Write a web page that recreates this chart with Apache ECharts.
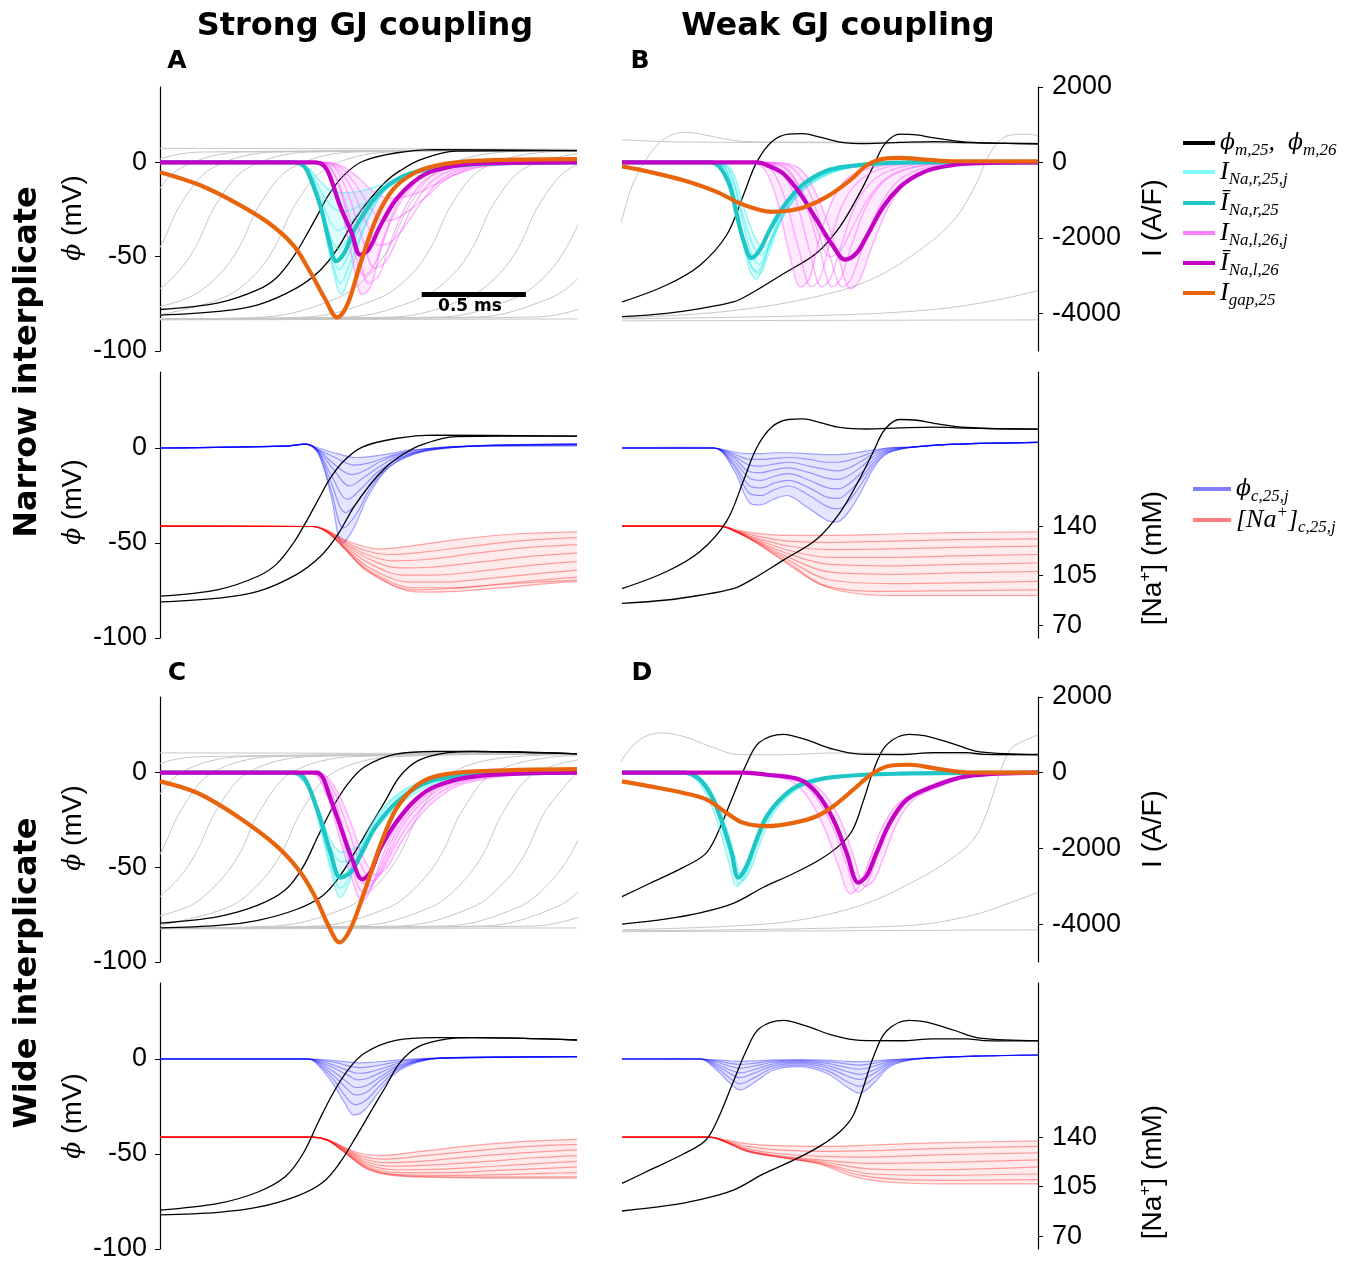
<!DOCTYPE html>
<html><head><meta charset="utf-8">
<script src="https://cdn.jsdelivr.net/npm/echarts@6/dist/echarts.min.js"></script>
<style>html,body{margin:0;padding:0;background:#fff;}#c{width:1359px;height:1264px;}</style>
</head><body><div id="c"></div>
<script>
// ---------- tick labels ----------
const phiTicks = [-100, -50, 0];
const iTicks = [-4000, -2000, 0, 2000];
const naTicks = [70, 105, 140];
const colTitles = ['Strong GJ coupling', 'Weak GJ coupling'];
const rowTitles = ['Narrow interplicate', 'Wide interplicate'];
const panelLetters = ['A', 'B', 'C', 'D'];

// ---------- membrane potentials (t ms, phi mV) ----------
const SN_phi25 = [[0,-78],[0.28,-74.5],[0.47,-67.5],[0.56,-61],[0.64,-50],[0.7,-39],[0.76,-27],[0.81,-17],[0.88,-7],[0.97,0.5],[1.13,5],[1.32,6.8],[2,6.3]];
const SN_phi26 = [[0,-81],[0.28,-79],[0.47,-75.5],[0.656,-66.5],[0.77,-57],[0.85,-46],[0.93,-31],[1.01,-19],[1.09,-9.5],[1.15,-4.5],[1.25,1.5],[1.42,6],[2,6.3]];
const WN_phi25 = [[0,-74],[0.215,-65],[0.375,-54.5],[0.503,-38.5],[0.583,-17.5],[0.647,0],[0.72,11],[0.8,15],[0.87,15.3],[0.952,13.4],[1.048,10.8],[1.176,10],[1.337,10.6],[1.5,11],[1.657,10.5],[2,9.9]];
const WN_phi26 = [[0,-81.8],[0.215,-80],[0.375,-77.5],[0.535,-74],[0.615,-69.8],[0.776,-59],[0.936,-48],[1.048,-34],[1.144,-16],[1.208,-2],[1.265,10],[1.337,15],[1.417,14.6],[1.5,13],[1.657,10.8],[2,9.9]];
const SW_phi25 = [[0,-79.5],[0.28,-76],[0.47,-70],[0.6,-62],[0.685,-50],[0.76,-33],[0.83,-18],[0.9,-6],[0.98,3],[1.13,9.8],[1.32,11.2],[1.5,11.2],[2,10]];
const SW_phi26 = [[0,-82],[0.28,-80.7],[0.47,-78],[0.66,-72],[0.78,-65],[0.86,-55],[0.94,-41],[1.02,-26],[1.08,-15],[1.15,-2],[1.24,6.5],[1.38,10.6],[1.5,11.2],[2,10]];
const WW_phi25 = [[0,-65.5],[0.135,-58.4],[0.295,-50],[0.4,-43],[0.455,-33],[0.535,-12],[0.6,5],[0.66,16],[0.776,20.3],[0.888,17.3],[1.016,12.4],[1.144,9.8],[1.337,9.6],[1.497,10.6],[1.657,10.6],[1.737,9.7],[2,9.5]];
const WW_phi26 = [[0,-80],[0.215,-77.2],[0.375,-74],[0.535,-69],[0.68,-60.5],[0.82,-53.5],[0.95,-46],[1.05,-38],[1.11,-30],[1.16,-15],[1.21,1.5],[1.272,14.7],[1.38,20.3],[1.46,19.5],[1.6,15],[1.72,11],[2,9.7]];

// ---------- other cells (gray) ----------
const A_gray = [
 [[-0.95,-82],[-0.6,-72],[-0.45,-60],[-0.35,-45],[-0.25,-22],[-0.1,-3],[0.2,5.5],[2,6.5]],
 [[-0.75,-82],[-0.4,-72],[-0.25,-60],[-0.15,-45],[-0.05,-22],[0.1,-3],[0.4,5.5],[2,6.5]],
 [[-0.6,-82],[-0.25,-72],[-0.1,-60],[0,-45],[0.1,-22],[0.25,-3],[0.55,5.5],[2,6.5]],
 [[-0.43,-82],[-0.08,-72],[0.07,-60],[0.17,-45],[0.27,-22],[0.42,-3],[0.72,5.5],[2,6.5]],
 [[-0.22,-82],[0.13,-72],[0.28,-60],[0.38,-45],[0.48,-22],[0.63,-3],[0.93,5.5],[2,6.5]],
 [[-0.05,-82],[0.3,-72],[0.45,-60],[0.55,-45],[0.65,-22],[0.8,-3],[1.1,5.5],[2,6.5]],
 [[0,-83],[0.5,-82],[0.85,-72],[1.0,-60],[1.1,-45],[1.2,-22],[1.35,-3],[1.65,5.5],[2,6.5]],
 [[0,-83],[0.7,-82],[1.05,-72],[1.2,-60],[1.3,-45],[1.4,-22],[1.55,-3],[1.85,5.5],[2,6]],
 [[0,-83],[0.9,-82],[1.25,-72],[1.4,-60],[1.5,-45],[1.6,-22],[1.75,-3],[2.05,5.5]],
 [[0,-83],[1.12,-82],[1.47,-72],[1.62,-60],[1.72,-45],[1.82,-22],[1.97,-3],[2.27,5.5]],
 [[0,-83],[1.35,-82],[1.7,-72],[1.85,-60],[1.95,-45],[2.05,-22]],
 [[0,-83],[1.52,-82],[1.87,-72],[2.02,-60],[2.12,-45]],
 [[0,-83],[1.8,-82],[2.15,-72],[2.3,-60]],
 [[0,-83.5],[2,-83]],
 [[0,7.5],[2,7]]
];
const B_gray = [
 [[-0.05,-50],[0,-30],[0.054,-11],[0.135,4.6],[0.215,13.4],[0.31,16],[0.41,14.3],[0.54,11.6],[0.7,10.8],[1.0,10.8],[2,10]],
 [[0,12],[0.3,10.8],[2,10.3]],
 [[0,-82.5],[0.5,-79],[0.9,-72],[1.2,-62],[1.45,-45],[1.6,-30],[1.7,-12],[1.77,5],[1.85,14],[1.95,15],[2,14]],
 [[0,-83],[1.0,-81],[1.5,-78],[1.8,-73],[2.0,-68]],
 [[0,-84],[2,-83.5]]
];
const C_gray = [
 [[-0.95,-81],[-0.6,-71],[-0.45,-58],[-0.35,-43],[-0.25,-20],[-0.1,0],[0.2,8.5],[2,10]],
 [[-0.75,-81],[-0.4,-71],[-0.25,-58],[-0.15,-43],[-0.05,-20],[0.1,0],[0.4,8.5],[2,10]],
 [[-0.6,-81],[-0.25,-71],[-0.1,-58],[0,-43],[0.1,-20],[0.25,0],[0.55,8.5],[2,10]],
 [[-0.43,-81],[-0.08,-71],[0.07,-58],[0.17,-43],[0.27,-20],[0.42,0],[0.72,8.5],[2,10]],
 [[-0.22,-81],[0.13,-71],[0.28,-58],[0.38,-43],[0.48,-20],[0.63,0],[0.93,8.5],[2,10]],
 [[-0.02,-81],[0.33,-71],[0.48,-58],[0.58,-43],[0.68,-20],[0.83,0],[1.13,8.5],[2,10]],
 [[0,-82],[0.55,-81],[0.9,-71],[1.05,-58],[1.15,-43],[1.25,-20],[1.4,0],[1.7,8.5],[2,9.5]],
 [[0,-82],[0.75,-81],[1.1,-71],[1.25,-58],[1.35,-43],[1.45,-20],[1.6,0],[1.9,8.5],[2,9]],
 [[0,-82],[0.95,-81],[1.3,-71],[1.45,-58],[1.55,-43],[1.65,-20],[1.8,0],[2.1,8.5]],
 [[0,-82],[1.15,-81],[1.5,-71],[1.65,-58],[1.75,-43],[1.85,-20],[2.0,0]],
 [[0,-82],[1.37,-81],[1.72,-71],[1.87,-58],[1.97,-43],[2.07,-20]],
 [[0,-82],[1.55,-81],[1.9,-71],[2.05,-58],[2.15,-43]],
 [[0,-82],[1.8,-81],[2.15,-71]],
 [[0,-82.5],[2,-82]],
 [[0,10.5],[2,10]]
];
const D_gray = [
 [[-0.05,-5],[0,6.9],[0.087,17.5],[0.183,21],[0.295,19.2],[0.423,13.9],[0.567,9.5],[0.776,9.5],[1.0,10.4],[2,9.5]],
 [[0,-83],[0.535,-81],[0.856,-77.8],[1.176,-69],[1.417,-56.6],[1.577,-46],[1.689,-35.4],[1.753,-21.3],[1.817,0],[1.865,12.2],[1.91,15.7],[2,20]],
 [[0,-83.5],[1.34,-81],[1.66,-76],[1.91,-67],[2,-63]],
 [[0,-84],[2,-83]]
];

// ---------- currents (t ms, I A/F) ----------
const A_Igap = [[0,-260],[0.19,-600],[0.37,-1090],[0.52,-1600],[0.64,-2200],[0.72,-2900],[0.79,-3600],[0.85,-4110],[0.9,-3750],[0.96,-2700],[1.04,-1450],[1.12,-700],[1.22,-280],[1.32,-90],[1.5,40],[2,90]];
const A_INarMean = [[0,0],[0.64,0],[0.69,-100],[0.72,-400],[0.77,-1175],[0.81,-2052],[0.846,-2620],[0.884,-2403],[0.94,-1701],[1.036,-912],[1.13,-474],[1.226,-254],[1.42,-79],[1.7,-10],[2,0]];
const A_INalMean = [[0,0],[0.74,0],[0.78,-60],[0.81,-298],[0.865,-1175],[0.92,-1877],[0.96,-2447],[1.0,-2315],[1.055,-1700],[1.13,-1000],[1.226,-474],[1.32,-210],[1.51,-35],[2,0]];
const A_INar = [
 [[0,0],[0.62,0],[0.7,-150],[0.76,-1000],[0.82,-2600],[0.87,-3500],[0.91,-3000],[0.97,-1900],[1.05,-950],[1.15,-420],[1.3,-120],[1.6,-10],[2,0]],
 [[0,0],[0.62,0],[0.7,-150],[0.76,-1000],[0.82,-2500],[0.865,-3200],[0.91,-2700],[0.98,-1700],[1.06,-850],[1.16,-380],[1.3,-120],[1.6,-10],[2,0]],
 [[0,0],[0.62,0],[0.7,-140],[0.76,-950],[0.82,-2300],[0.86,-2850],[0.9,-2500],[0.97,-1600],[1.05,-880],[1.15,-420],[1.3,-130],[1.6,-10],[2,0]],
 [[0,0],[0.62,0],[0.7,-130],[0.76,-900],[0.82,-2000],[0.86,-2300],[0.9,-2050],[0.97,-1450],[1.05,-850],[1.15,-420],[1.3,-130],[1.6,-10],[2,0]],
 [[0,0],[0.62,0],[0.7,-120],[0.76,-800],[0.82,-1600],[0.86,-1800],[0.9,-1650],[0.97,-1250],[1.05,-800],[1.15,-420],[1.3,-140],[1.6,-10],[2,0]],
 [[0,0],[0.62,0],[0.7,-110],[0.76,-650],[0.82,-1150],[0.87,-1300],[0.92,-1250],[0.99,-1050],[1.07,-740],[1.17,-420],[1.3,-150],[1.6,-10],[2,0]],
 [[0,0],[0.62,0],[0.7,-100],[0.76,-450],[0.82,-750],[0.88,-800],[0.94,-780],[1.0,-700],[1.08,-560],[1.18,-360],[1.3,-150],[1.6,-10],[2,0]]
];
const A_INal = [
 [[0,0],[0.74,0],[0.8,-150],[0.86,-1000],[0.92,-2500],[0.97,-3500],[1.01,-3300],[1.06,-2300],[1.13,-1200],[1.22,-500],[1.35,-150],[1.6,-20],[2,0]],
 [[0,0],[0.76,0],[0.82,-150],[0.88,-900],[0.95,-2300],[1.0,-3200],[1.05,-3000],[1.1,-2200],[1.18,-1150],[1.27,-480],[1.4,-140],[1.65,-20],[2,0]],
 [[0,0],[0.78,0],[0.84,-150],[0.9,-800],[0.97,-2000],[1.03,-2800],[1.08,-2650],[1.14,-2000],[1.22,-1100],[1.31,-470],[1.44,-140],[1.7,-20],[2,0]],
 [[0,0],[0.78,0],[0.85,-150],[0.92,-700],[0.99,-1600],[1.05,-2200],[1.11,-2100],[1.18,-1650],[1.26,-1000],[1.35,-450],[1.47,-140],[1.7,-20],[2,0]],
 [[0,0],[0.8,0],[0.87,-150],[0.94,-600],[1.01,-1200],[1.07,-1550],[1.13,-1500],[1.2,-1250],[1.29,-850],[1.38,-420],[1.5,-140],[1.75,-20],[2,0]],
 [[0,0],[0.8,0],[0.88,-120],[0.96,-450],[1.03,-800],[1.1,-950],[1.17,-920],[1.25,-780],[1.33,-560],[1.42,-320],[1.54,-120],[1.8,-20],[2,0]],
 [[0,0],[0.76,0],[0.82,-150],[0.88,-1000],[0.93,-2300],[0.98,-3000],[1.03,-2700],[1.08,-1900],[1.16,-1000],[1.25,-420],[1.38,-120],[1.6,-20],[2,0]]
];

const B_Igap = [[0,-105],[0.135,-254],[0.295,-474],[0.455,-780],[0.567,-1087],[0.663,-1263],[0.72,-1310],[0.8,-1280],[0.88,-1180],[0.984,-912],[1.096,-474],[1.176,-79],[1.256,96],[1.337,123],[1.417,96],[1.577,35],[2,30]];
const B_INarMean = [[0,0],[0.42,0],[0.47,-123],[0.52,-649],[0.55,-1350],[0.583,-2052],[0.623,-2534],[0.663,-2315],[0.71,-1789],[0.776,-1175],[0.856,-649],[0.936,-342],[1.016,-167],[1.176,-53],[1.4,0],[2,0]];
const B_INalMean = [[0,0],[0.65,0],[0.7,-80],[0.776,-298],[0.856,-824],[0.936,-1526],[1.016,-2228],[1.072,-2578],[1.128,-2403],[1.176,-1965],[1.256,-1175],[1.337,-649],[1.417,-342],[1.497,-167],[1.657,-35],[2,0]];
const B_INar = [
 [[0,0],[0.42,0],[0.5,-200],[0.56,-1500],[0.61,-2800],[0.645,-3100],[0.68,-2700],[0.73,-1800],[0.8,-1000],[0.9,-450],[1.05,-150],[1.3,0],[2,0]],
 [[0,0],[0.42,0],[0.5,-180],[0.56,-1400],[0.61,-2600],[0.65,-2900],[0.69,-2500],[0.75,-1600],[0.83,-850],[0.93,-400],[1.08,-130],[1.3,0],[2,0]],
 [[0,0],[0.42,0],[0.51,-160],[0.57,-1300],[0.62,-2400],[0.66,-2700],[0.7,-2350],[0.76,-1550],[0.84,-850],[0.95,-380],[1.1,-120],[1.35,0],[2,0]],
 [[0,0],[0.42,0],[0.51,-150],[0.57,-1200],[0.63,-2200],[0.67,-2450],[0.71,-2150],[0.77,-1450],[0.86,-780],[0.97,-350],[1.12,-110],[1.4,0],[2,0]],
 [[0,0],[0.42,0],[0.52,-140],[0.58,-1100],[0.64,-2000],[0.68,-2250],[0.72,-2000],[0.79,-1300],[0.88,-700],[0.99,-320],[1.14,-100],[1.4,0],[2,0]],
 [[0,0],[0.42,0],[0.5,-190],[0.56,-1450],[0.62,-2750],[0.66,-2950],[0.7,-2500],[0.76,-1600],[0.84,-850],[0.94,-400],[1.08,-130],[1.3,0],[2,0]]
];
const B_INal = [
 [[0,0],[0.6,0],[0.68,-150],[0.74,-900],[0.8,-2300],[0.86,-3300],[0.9,-3100],[0.95,-2000],[1.02,-900],[1.1,-350],[1.25,-80],[1.5,0],[2,0]],
 [[0,0],[0.62,0],[0.71,-150],[0.78,-900],[0.85,-2300],[0.91,-3300],[0.95,-3100],[1.0,-2100],[1.07,-1000],[1.16,-400],[1.3,-90],[1.55,0],[2,0]],
 [[0,0],[0.65,0],[0.75,-150],[0.83,-900],[0.9,-2300],[0.96,-3300],[1.0,-3100],[1.06,-2100],[1.13,-1050],[1.22,-420],[1.36,-100],[1.6,0],[2,0]],
 [[0,0],[0.68,0],[0.79,-150],[0.87,-900],[0.95,-2300],[1.01,-3300],[1.05,-3100],[1.11,-2100],[1.18,-1100],[1.27,-450],[1.42,-110],[1.65,0],[2,0]],
 [[0,0],[0.7,0],[0.82,-150],[0.91,-900],[0.99,-2300],[1.06,-3300],[1.1,-3100],[1.16,-2200],[1.24,-1150],[1.33,-480],[1.47,-120],[1.7,0],[2,0]],
 [[0,0],[0.72,0],[0.85,-150],[0.94,-900],[1.03,-2300],[1.1,-3350],[1.14,-3150],[1.2,-2250],[1.28,-1200],[1.37,-500],[1.5,-130],[1.75,0],[2,0]],
 [[0,0],[0.66,0],[0.78,-150],[0.87,-800],[0.94,-1800],[1.0,-2500],[1.05,-2350],[1.11,-1700],[1.19,-900],[1.28,-380],[1.42,-100],[1.65,0],[2,0]]
];

const C_Igap = [[0,-228],[0.18,-535],[0.37,-1149],[0.56,-1938],[0.675,-2640],[0.75,-3341],[0.808,-4043],[0.861,-4481],[0.913,-4131],[0.979,-3166],[1.055,-1938],[1.131,-973],[1.226,-360],[1.321,-96],[1.511,35],[2,96]];
const C_INarMean = [[0,0],[0.64,0],[0.68,-60],[0.713,-360],[0.77,-1237],[0.818,-2114],[0.865,-2771],[0.913,-2640],[0.96,-2201],[1.036,-1412],[1.131,-798],[1.226,-403],[1.321,-184],[1.511,-53],[2,0]];
const C_INalMean = [[0,0],[0.751,0],[0.78,-120],[0.808,-535],[0.865,-1412],[0.922,-2289],[0.97,-2815],[1.008,-2640],[1.055,-2026],[1.131,-1324],[1.226,-710],[1.321,-360],[1.511,-96],[2,0]];
const C_INar = [
 [[0,0],[0.62,0],[0.71,-400],[0.77,-1500],[0.82,-2600],[0.865,-3300],[0.9,-3000],[0.95,-2200],[1.02,-1300],[1.12,-650],[1.25,-250],[1.5,-40],[2,0]],
 [[0,0],[0.62,0],[0.71,-380],[0.77,-1400],[0.82,-2450],[0.865,-3050],[0.9,-2850],[0.96,-2100],[1.03,-1300],[1.13,-650],[1.26,-260],[1.5,-40],[2,0]],
 [[0,0],[0.62,0],[0.71,-360],[0.77,-1300],[0.82,-2250],[0.87,-2700],[0.91,-2550],[0.97,-2000],[1.05,-1250],[1.15,-650],[1.28,-260],[1.5,-50],[2,0]],
 [[0,0],[0.62,0],[0.71,-340],[0.77,-1200],[0.82,-2000],[0.87,-2350],[0.92,-2250],[0.99,-1800],[1.07,-1200],[1.17,-650],[1.3,-270],[1.5,-60],[2,0]],
 [[0,0],[0.62,0],[0.71,-320],[0.77,-1100],[0.82,-1800],[0.87,-2100],[0.93,-2000],[1.0,-1700],[1.09,-1150],[1.2,-630],[1.33,-270],[1.55,-60],[2,0]]
];
const C_INal = [
 [[0,0],[0.72,0],[0.8,-600],[0.86,-1700],[0.92,-2800],[0.97,-3400],[1.01,-3100],[1.06,-2300],[1.13,-1450],[1.23,-750],[1.35,-300],[1.6,-60],[2,0]],
 [[0,0],[0.73,0],[0.81,-550],[0.87,-1600],[0.93,-2700],[0.98,-3200],[1.02,-2950],[1.08,-2200],[1.15,-1400],[1.25,-730],[1.37,-300],[1.6,-60],[2,0]],
 [[0,0],[0.74,0],[0.82,-500],[0.88,-1500],[0.94,-2550],[1.0,-3000],[1.04,-2800],[1.1,-2100],[1.17,-1350],[1.27,-720],[1.39,-300],[1.62,-60],[2,0]],
 [[0,0],[0.75,0],[0.83,-450],[0.9,-1450],[0.96,-2400],[1.02,-2850],[1.06,-2650],[1.12,-2000],[1.2,-1300],[1.3,-700],[1.42,-300],[1.65,-60],[2,0]],
 [[0,0],[0.76,0],[0.84,-400],[0.92,-1400],[0.98,-2300],[1.04,-2700],[1.09,-2500],[1.15,-1900],[1.23,-1250],[1.33,-680],[1.45,-300],[1.7,-60],[2,0]]
];

const D_Igap = [[0,-228],[0.135,-360],[0.295,-535],[0.407,-710],[0.503,-1061],[0.583,-1324],[0.696,-1412],[0.824,-1324],[0.936,-1149],[1.016,-886],[1.112,-447],[1.208,-9],[1.288,184],[1.385,210],[1.497,123],[1.657,9],[2,0]];
const D_INarMean = [[0,0],[0.295,0],[0.375,-184],[0.439,-710],[0.487,-1412],[0.527,-2114],[0.559,-2770],[0.599,-2464],[0.647,-1763],[0.696,-1149],[0.776,-623],[0.856,-316],[1.016,-114],[1.337,-26],[2,0]];
const D_INalMean = [[0,0],[0.583,0],[0.696,-53],[0.856,-184],[0.936,-535],[1.016,-1237],[1.08,-2114],[1.136,-2903],[1.176,-2727],[1.224,-2114],[1.288,-1324],[1.369,-710],[1.497,-360],[1.657,-96],[2,0]];
const D_INar = [
 [[0,0],[0.27,0],[0.36,-200],[0.425,-800],[0.475,-1600],[0.515,-2400],[0.55,-3000],[0.585,-2750],[0.635,-1950],[0.685,-1280],[0.765,-700],[0.855,-350],[1.04,-110],[1.4,0],[2,0]],
 [[0,0],[0.3,0],[0.39,-200],[0.455,-780],[0.505,-1500],[0.545,-2250],[0.58,-2850],[0.615,-2600],[0.665,-1850],[0.715,-1200],[0.795,-650],[0.885,-330],[1.07,-110],[1.4,0],[2,0]],
 [[0,0],[0.285,0],[0.375,-200],[0.44,-790],[0.49,-1550],[0.53,-2350],[0.565,-2950],[0.6,-2650],[0.65,-1900],[0.7,-1240],[0.78,-670],[0.87,-340],[1.055,-110],[1.4,0],[2,0]]
];
const D_INal = [
 [[0,0],[0.58,0],[0.7,-60],[0.82,-250],[0.9,-700],[0.98,-1550],[1.04,-2450],[1.1,-3200],[1.14,-3000],[1.19,-2300],[1.25,-1450],[1.33,-800],[1.46,-400],[1.62,-100],[2,0]],
 [[0,0],[0.58,0],[0.7,-60],[0.88,-200],[0.97,-550],[1.05,-1250],[1.11,-2150],[1.17,-3000],[1.21,-2850],[1.26,-2200],[1.32,-1350],[1.4,-720],[1.53,-360],[1.69,-90],[2,0]],
 [[0,0],[0.58,0],[0.7,-60],[0.85,-220],[0.93,-620],[1.01,-1400],[1.075,-2350],[1.135,-3150],[1.175,-2950],[1.225,-2250],[1.29,-1400],[1.37,-760],[1.5,-380],[1.66,-100],[2,0]]
];

// ---------- cleft potentials (phi mV) and cleft [Na+] (mM) ----------
const A2_phiC = [
 [[0,0],[0.6,1],[0.7,2],[0.76,-3],[0.82,-25],[0.875,-50],[0.93,-42],[1.0,-25],[1.1,-10],[1.25,-2],[1.5,1],[2,2]],
 [[0,0],[0.6,1],[0.7,2],[0.76,-3],[0.82,-22],[0.88,-42],[0.94,-35],[1.01,-21],[1.11,-9],[1.26,-2],[1.5,1],[2,2]],
 [[0,0],[0.6,1],[0.7,2],[0.76,-2],[0.82,-18],[0.89,-34],[0.95,-28],[1.02,-17],[1.12,-7],[1.27,-1],[1.5,1],[2,2]],
 [[0,0],[0.6,1],[0.7,2],[0.76,-2],[0.82,-14],[0.9,-27],[0.96,-22],[1.04,-13],[1.14,-6],[1.28,-1],[1.5,1],[2,2]],
 [[0,0],[0.6,1],[0.7,2],[0.76,-1.5],[0.83,-11],[0.91,-20],[0.97,-16],[1.05,-10],[1.15,-4],[1.3,-1],[1.5,1],[2,2]],
 [[0,0],[0.6,1],[0.7,2],[0.76,-1],[0.83,-8],[0.92,-14],[0.98,-12],[1.06,-7],[1.16,-3],[1.3,0],[1.5,1],[2,1.5]],
 [[0,0],[0.6,1],[0.7,2],[0.76,-1],[0.84,-5],[0.93,-9],[1.0,-8],[1.08,-5],[1.18,-2],[1.32,0],[1.5,1],[2,1.5]],
 [[0,0],[0.6,1],[0.7,2],[0.76,0],[0.85,-3],[0.94,-5],[1.01,-4.5],[1.1,-3],[1.2,-1],[1.35,0],[1.5,1],[2,1]]
];
const A2_Na = [
 [[0,140],[0.73,139.8],[0.8,137.5],[0.88,131],[0.97,126],[1.05,124],[1.2,126],[1.45,131],[1.7,134.5],[2,136]],
 [[0,140],[0.73,139.8],[0.8,137],[0.88,130],[0.98,123],[1.1,120],[1.25,121.5],[1.5,126],[1.75,130],[2,132]],
 [[0,140],[0.73,139.8],[0.8,137],[0.88,129],[0.99,120],[1.12,115.5],[1.28,116.5],[1.52,121],[1.77,125],[2,127]],
 [[0,140],[0.73,139.8],[0.8,136.5],[0.88,128],[1.0,117],[1.15,110.5],[1.3,111],[1.55,115],[1.8,119],[2,121]],
 [[0,140],[0.73,139.8],[0.8,136.5],[0.88,127],[1.0,114],[1.17,105.5],[1.32,105.5],[1.58,109],[1.82,113],[2,115]],
 [[0,140],[0.73,139.8],[0.8,136],[0.88,126],[1.0,111],[1.2,100.5],[1.35,100.5],[1.6,103.5],[1.85,107],[2,109]],
 [[0,140],[0.73,139.8],[0.8,136],[0.88,125.5],[1.0,109],[1.22,96.5],[1.4,96.5],[1.65,99.5],[1.87,102.5],[2,104]],
 [[0,140],[0.73,139.8],[0.8,136],[0.88,125],[1.0,108],[1.22,95],[1.4,96],[1.65,99],[1.88,101],[2,102]],
 [[0,140],[0.73,139.8],[0.8,136],[0.88,125],[1.0,107.5],[1.24,93.5],[1.42,94],[1.68,97],[1.9,100],[2,101]]
];
const B2_phiC = [
 [[0,0],[0.44,0],[0.535,-11],[0.615,-29],[0.663,-30],[0.728,-27],[0.792,-25],[0.888,-31],[0.984,-38],[1.03,-39],[1.08,-35],[1.144,-24],[1.208,-11],[1.272,-3],[1.4,0.5],[1.6,2],[2,3]],
 [[0,0],[0.44,0],[0.535,-9],[0.615,-24],[0.67,-25],[0.73,-22],[0.8,-20],[0.9,-25],[0.99,-31],[1.04,-32],[1.09,-28],[1.15,-19],[1.21,-9],[1.28,-2.5],[1.4,0.5],[1.6,2],[2,3]],
 [[0,0],[0.44,0],[0.535,-8],[0.615,-20],[0.67,-21],[0.73,-18.5],[0.8,-17],[0.9,-21],[0.99,-26],[1.04,-26.5],[1.09,-23],[1.15,-16],[1.21,-7.5],[1.28,-2],[1.4,0.5],[1.6,2],[2,3]],
 [[0,0],[0.44,0],[0.535,-6.5],[0.615,-16],[0.67,-17],[0.73,-15],[0.8,-13.5],[0.9,-17],[0.99,-21],[1.04,-21.5],[1.09,-19],[1.15,-13],[1.21,-6],[1.28,-1.5],[1.4,0.5],[1.6,2],[2,3]],
 [[0,0],[0.44,0],[0.535,-5],[0.615,-12.5],[0.67,-13],[0.73,-11.5],[0.8,-10.5],[0.9,-13],[0.99,-16],[1.04,-16.5],[1.09,-14.5],[1.15,-10],[1.21,-4.5],[1.28,-1],[1.4,0.5],[1.6,2],[2,3]],
 [[0,0],[0.44,0],[0.535,-4],[0.615,-9],[0.67,-9.5],[0.73,-8.5],[0.8,-7.5],[0.9,-9.5],[0.99,-11.5],[1.04,-12],[1.09,-10.5],[1.15,-7],[1.21,-3],[1.28,-0.5],[1.4,0.5],[1.6,2],[2,3]],
 [[0,0],[0.44,0],[0.535,-3],[0.615,-6],[0.67,-6],[0.73,-5.5],[0.8,-5],[0.9,-6],[0.99,-7.5],[1.04,-7.5],[1.09,-6.5],[1.15,-4.5],[1.21,-2],[1.28,0],[1.4,0.5],[1.6,2],[2,3]],
 [[0,0],[0.44,0],[0.535,-2],[0.615,-3],[0.67,-3],[0.73,-2.5],[0.8,-2.5],[0.9,-3],[0.99,-3.5],[1.04,-3.5],[1.09,-3],[1.15,-2],[1.21,-1],[1.28,0],[1.4,0.5],[1.6,2],[2,3]]
];
const B2_Na = [
 [[0,140],[0.47,140],[0.55,137.5],[0.65,135],[0.8,133.5],[1.0,133.5],[1.3,134.5],[1.6,135.5],[2,136]],
 [[0,140],[0.47,140],[0.55,137],[0.65,133],[0.8,129.5],[1.0,128.5],[1.3,129.5],[1.6,130.5],[2,131]],
 [[0,140],[0.47,140],[0.55,136.5],[0.65,131.5],[0.8,126],[1.0,123.5],[1.3,124],[1.6,125],[2,126]],
 [[0,140],[0.47,140],[0.55,136.5],[0.65,130.5],[0.8,123],[1.0,118],[1.3,118],[1.6,119],[2,120]],
 [[0,140],[0.47,140],[0.55,136],[0.65,129.5],[0.8,120.5],[1.0,113],[1.3,112],[1.6,113],[2,114]],
 [[0,140],[0.47,140],[0.55,136],[0.65,129],[0.8,118],[1.0,107.5],[1.3,106],[1.6,107],[2,108]],
 [[0,140],[0.47,140],[0.55,136],[0.65,128.5],[0.8,116],[1.0,102],[1.3,99.5],[1.6,100],[2,101]],
 [[0,140],[0.47,140],[0.55,136],[0.65,128],[0.8,114],[1.0,97],[1.3,94],[1.6,94.5],[2,95]],
 [[0,140],[0.47,140],[0.55,136],[0.65,128],[0.8,113],[0.95,99],[1.1,93],[1.3,91],[1.6,91],[2,91]]
];
const C2_phiC = [
 [[0,0],[0.71,0],[0.75,-2.3],[0.83,-13],[0.885,-23],[0.93,-29.5],[0.98,-27],[1.055,-16.5],[1.13,-7.5],[1.23,-2],[1.35,0.5],[2,1.2]],
 [[0,0],[0.71,0],[0.75,-2],[0.83,-10.5],[0.885,-19],[0.935,-24],[0.985,-22],[1.06,-13.5],[1.135,-6],[1.23,-1.5],[1.35,0.5],[2,1.2]],
 [[0,0],[0.71,0],[0.75,-1.5],[0.83,-8.5],[0.89,-15],[0.94,-19],[0.99,-17.5],[1.06,-11],[1.14,-5],[1.24,-1],[1.35,0.5],[2,1.2]],
 [[0,0],[0.71,0],[0.75,-1.2],[0.83,-6.5],[0.89,-11.5],[0.94,-15],[0.99,-14],[1.07,-8.5],[1.14,-4],[1.24,-1],[1.35,0.5],[2,1.2]],
 [[0,0],[0.71,0],[0.75,-1],[0.84,-5],[0.9,-8.5],[0.95,-11],[1.0,-10],[1.07,-6.5],[1.15,-3],[1.25,-0.5],[1.35,0.5],[2,1.2]],
 [[0,0],[0.71,0],[0.76,-0.7],[0.84,-3.5],[0.9,-6],[0.95,-7.5],[1.0,-7],[1.08,-4.5],[1.15,-2],[1.25,-0.3],[1.35,0.5],[2,1.2]],
 [[0,0],[0.71,0],[0.76,-0.4],[0.85,-2],[0.9,-3.5],[0.96,-4.5],[1.01,-4],[1.08,-2.7],[1.15,-1.2],[1.25,0],[1.35,0.5],[2,1.2]],
 [[0,0],[0.71,0],[0.76,-0.2],[0.85,-1],[0.9,-1.6],[0.96,-2],[1.01,-1.8],[1.08,-1.2],[1.15,-0.5],[1.25,0.2],[1.35,0.5],[2,1.2]]
];
const C2_Na = [
 [[0,140],[0.73,140],[0.8,138.5],[0.87,134],[0.95,129],[1.05,127],[1.25,130],[1.5,134],[1.75,137],[2,138.5]],
 [[0,140],[0.73,140],[0.8,138.5],[0.87,133.5],[0.96,127],[1.07,124.5],[1.27,127],[1.52,130.5],[1.77,133.5],[2,135]],
 [[0,140],[0.73,140],[0.8,138.3],[0.87,133],[0.97,125],[1.09,122],[1.3,123.5],[1.55,127],[1.8,129.5],[2,131]],
 [[0,140],[0.73,140],[0.8,138.2],[0.87,132.5],[0.98,123],[1.11,119.5],[1.32,120.5],[1.57,123],[1.8,125.5],[2,127]],
 [[0,140],[0.73,140],[0.8,138],[0.87,132],[0.99,121],[1.13,117],[1.35,117.5],[1.6,119.5],[1.82,121.5],[2,123]],
 [[0,140],[0.73,140],[0.8,138],[0.87,131.5],[1.0,119],[1.15,115],[1.37,115],[1.62,116.5],[1.85,118],[2,119]],
 [[0,140],[0.73,140],[0.8,138],[0.87,131.5],[1.0,118],[1.15,113.5],[1.4,113],[1.65,113.5],[1.85,114.5],[2,115]],
 [[0,140],[0.73,140],[0.8,138],[0.87,131],[1.0,117.5],[1.15,113],[1.4,112],[1.7,111.8],[2,112]],
 [[0,140],[0.73,140],[0.8,138],[0.87,131],[1.0,117],[1.15,112.5],[1.4,111.5],[1.7,111],[2,111]]
];
const D2_phiC = [
 [[0,0],[0.375,0],[0.455,-5.8],[0.52,-12.8],[0.567,-16.3],[0.63,-12.8],[0.73,-5.8],[0.856,-4],[0.984,-7.5],[1.08,-14.6],[1.144,-18],[1.21,-12.8],[1.29,-4],[1.42,0],[1.7,1.5],[2,2.1]],
 [[0,0],[0.375,0],[0.455,-4.6],[0.52,-10.2],[0.567,-13],[0.63,-10.2],[0.73,-4.6],[0.856,-3.2],[0.984,-6],[1.08,-11.7],[1.144,-14.4],[1.21,-10.2],[1.29,-3.2],[1.42,0],[1.7,1.5],[2,2.1]],
 [[0,0],[0.375,0],[0.455,-3.5],[0.52,-7.7],[0.567,-9.8],[0.63,-7.7],[0.73,-3.5],[0.856,-2.4],[0.984,-4.5],[1.08,-8.8],[1.144,-10.8],[1.21,-7.7],[1.29,-2.4],[1.42,0],[1.7,1.5],[2,2.1]],
 [[0,0],[0.375,0],[0.455,-2.6],[0.52,-5.8],[0.567,-7.3],[0.63,-5.8],[0.73,-2.6],[0.856,-1.8],[0.984,-3.4],[1.08,-6.6],[1.144,-8.1],[1.21,-5.8],[1.29,-1.8],[1.42,0],[1.7,1.5],[2,2.1]],
 [[0,0],[0.375,0],[0.455,-1.7],[0.52,-3.8],[0.567,-4.9],[0.63,-3.8],[0.73,-1.7],[0.856,-1.2],[0.984,-2.3],[1.08,-4.4],[1.144,-5.4],[1.21,-3.8],[1.29,-1.2],[1.42,0.2],[1.7,1.5],[2,2.1]],
 [[0,0],[0.375,0],[0.455,-1],[0.52,-2.3],[0.567,-2.9],[0.63,-2.3],[0.73,-1],[0.856,-0.7],[0.984,-1.4],[1.08,-2.6],[1.144,-3.2],[1.21,-2.3],[1.29,-0.7],[1.42,0.3],[1.7,1.5],[2,2.1]],
 [[0,0],[0.375,0],[0.455,-0.5],[0.52,-1],[0.567,-1.3],[0.63,-1],[0.73,-0.5],[0.856,-0.3],[0.984,-0.6],[1.08,-1.2],[1.144,-1.4],[1.21,-1],[1.29,-0.3],[1.42,0.4],[1.7,1.5],[2,2.1]]
];
const D2_Na = [
 [[0,140],[0.42,140],[0.5,138],[0.6,135.5],[0.75,134],[0.95,133.5],[1.2,134.5],[1.5,136],[2,137.4]],
 [[0,140],[0.42,140],[0.5,137.5],[0.6,133.5],[0.75,131],[0.95,130],[1.2,130.5],[1.5,132],[2,133.5]],
 [[0,140],[0.42,140],[0.5,137],[0.6,132],[0.75,128.5],[0.95,126.5],[1.2,126],[1.5,127.5],[2,129]],
 [[0,140],[0.42,140],[0.5,137],[0.6,131],[0.75,127],[0.95,124],[1.2,121.5],[1.5,122],[2,124]],
 [[0,140],[0.42,140],[0.5,136.5],[0.6,130.5],[0.75,126.5],[0.95,123],[1.2,117.5],[1.5,117],[2,119]],
 [[0,140],[0.42,140],[0.5,136.5],[0.6,130.5],[0.75,126],[0.95,122],[1.2,114],[1.5,113],[2,114]],
 [[0,140],[0.42,140],[0.5,136.5],[0.6,130],[0.75,126],[0.95,121.5],[1.15,113],[1.35,110],[1.6,109.5],[2,110]],
 [[0,140],[0.42,140],[0.5,136.5],[0.6,130],[0.75,126],[0.95,121],[1.12,112],[1.3,108],[1.6,107],[2,107]]
];
const scaleBar = [[1.255,-70],[1.755,-70]];

// ---------- chart construction ----------
const COL = {gray:'#c6c6c6', black:'#000000', cyanJ:'#33eeee', cyan:'#1fc6c6', magJ:'#ff55ff', mag:'#c400c4', orange:'#e8650d', blue:'#0000ff', red:'#ff0000'};
const rowTop = [87, 372, 697, 983], rowH = [264, 266, 265, 266];
const colLeft = [160, 622], colW = [417, 416];
const grids = [], xAxes = [], yAxes = [], series = [];
const SANS = '"Liberation Sans", Arial, sans-serif';
function yAx(k, pos, min, max, ticks, show) {
  return {type:'value', gridIndex:k, position:pos, min, max, show,
    axisLine:{show:true, onZero:false, lineStyle:{color:'#000', width:1.2}},
    axisTick:{show:true, inside:false, length:5, lineStyle:{color:'#000', width:1}, customValues:ticks},
    axisLabel:{show:true, color:'#000', fontSize:27, fontFamily:SANS, margin:pos === 'left' ? 13 : 14, customValues:ticks, formatter:(v)=>String(v)},
    splitLine:{show:false}};
}
for (let r = 0; r < 4; r++) for (let c = 0; c < 2; c++) {
  const k = r * 2 + c;
  grids.push({left:colLeft[c], top:rowTop[r], width:colW[c], height:rowH[r]});
  xAxes.push({type:'value', gridIndex:k, min:0, max:2, show:false});
  yAxes.push(yAx(k, 'left', -100, 40, phiTicks, c === 0));
  if (r % 2 === 0) yAxes.push(yAx(k, 'right', -5000, 2000, iTicks, c === 1));
  else yAxes.push(yAx(k, 'right', 61, 249, naTicks, c === 1));
}
function line(k, right, data, color, width, opacity) {
  series.push({type:'line', xAxisIndex:k, yAxisIndex:2 * k + (right ? 1 : 0), data, symbol:'none', showSymbol:false,
    smooth:0.35, clip:true, silent:true,
    lineStyle:{color, width, opacity: opacity == null ? 1 : opacity}});
}
function fam(k, right, arr, color, width, opacity) { arr.forEach(d => line(k, right, d, color, width, opacity)); }
// translucent fill between two member curves of a family (area between the outermost traces)
function band(k, right, a, b, color, opacity) {
  series.push({type:'custom', coordinateSystem:'cartesian2d', xAxisIndex:k, yAxisIndex:2 * k + (right ? 1 : 0),
    silent:true, clip:true, data:[a[0]],
    renderItem:(params, api) => {
      const cs = params.coordSys;
      const pa = a.map(p => api.coord(p));
      const pb = b.slice().reverse().map(p => api.coord(p));
      // repeat the corner points so the smoothed outline keeps sharp corners at the panel edges
      const pts = [pa[0]].concat(pa, [pa[pa.length - 1]], [pb[0]], pb, [pb[pb.length - 1]]);
      return {type:'polygon',
        shape:{points:pts, smooth:0.35},
        clipPath:{type:'rect', shape:{x:cs.x, y:cs.y, width:cs.width, height:cs.height}},
        style:{fill:color, opacity:opacity}};
    }});
}

function upper(k, gray, b25, b26, nar, nal, narMean, nalMean, igap, nb, lb) {
  fam(k, false, gray, COL.gray, 1, 1);
  line(k, false, b25, COL.black, 1.3);
  line(k, false, b26, COL.black, 1.3);
  band(k, true, nar[nb[0]], nar[nb[1]], COL.cyanJ, 0.16);
  band(k, true, nal[lb[0]], nal[lb[1]], COL.magJ, 0.13);
  fam(k, true, nar, COL.cyanJ, 1.4, 0.5);
  fam(k, true, nal, COL.magJ, 1.4, 0.45);
  line(k, true, narMean, COL.cyan, 4.2);
  line(k, true, nalMean, COL.mag, 4.2);
  line(k, true, igap, COL.orange, 4.2);
}
function lower(k, phiC, na, b25, b26) {
  band(k, false, phiC[0], phiC[phiC.length - 1], COL.blue, 0.1);
  band(k, true, na[0], na[na.length - 1], COL.red, 0.08);
  fam(k, false, phiC, COL.blue, 1.2, 0.35);
  fam(k, true, na, COL.red, 1.2, 0.35);
  line(k, false, b25, COL.black, 1.3);
  line(k, false, b26, COL.black, 1.3);
}
upper(0, A_gray, SN_phi25, SN_phi26, A_INar, A_INal, A_INarMean, A_INalMean, A_Igap, [0, 6], [0, 5]);
upper(1, B_gray, WN_phi25, WN_phi26, B_INar, B_INal, B_INarMean, B_INalMean, B_Igap, [0, 4], [0, 5]);
lower(2, A2_phiC, A2_Na, SN_phi25, SN_phi26);
lower(3, B2_phiC, B2_Na, WN_phi25, WN_phi26);
upper(4, C_gray, SW_phi25, SW_phi26, C_INar, C_INal, C_INarMean, C_INalMean, C_Igap, [0, 4], [0, 4]);
upper(5, D_gray, WW_phi25, WW_phi26, D_INar, D_INal, D_INarMean, D_INalMean, D_Igap, [0, 1], [0, 1]);
lower(6, C2_phiC, C2_Na, SW_phi25, SW_phi26);
lower(7, D2_phiC, D2_Na, WW_phi25, WW_phi26);
series.push({type:'line', xAxisIndex:0, yAxisIndex:0, data:scaleBar, symbol:'none', smooth:false, silent:true, lineStyle:{color:'#000', width:5}});

// ---------- texts ----------
const G = [];
function T(x, y, text, style, rot) {
  G.push({type:'text', x, y, rotation:rot || 0, silent:true, z:100,
    style:Object.assign({text, fill:'#000', align:'center', verticalAlign:'middle', textAlign:'center', textVerticalAlign:'middle'}, style)});
}
const BOLD = '"DejaVu Sans", Verdana, sans-serif';
T(365, 27, colTitles[0], {fontFamily:BOLD, fontWeight:'bold', fontSize:32});
T(838, 27, colTitles[1], {fontFamily:BOLD, fontWeight:'bold', fontSize:32});
T(28, 362, rowTitles[0], {fontFamily:BOLD, fontWeight:'bold', fontSize:32}, Math.PI / 2);
T(28, 973, rowTitles[1], {fontFamily:BOLD, fontWeight:'bold', fontSize:32}, Math.PI / 2);
[[177,61],[640,61],[177,673],[642,673]].forEach((p, i) => T(p[0], p[1], panelLetters[i], {fontFamily:BOLD, fontWeight:'bold', fontSize:25}));
T(470, 307, '0.5 ms', {fontFamily:BOLD, fontWeight:'bold', fontSize:17});

const axRich = {
  p:{fontFamily:'"DejaVu Serif", serif', fontStyle:'italic', fontSize:25, lineHeight:32, verticalAlign:'middle', fill:'#000'},
  t:{fontFamily:SANS, fontSize:28, lineHeight:32, verticalAlign:'middle', fill:'#000'},
  u:{fontFamily:SANS, fontSize:17, lineHeight:16, verticalAlign:'top', fill:'#000'}
};
[218, 502, 828, 1116].forEach(y => T(73, y, '{p|ϕ}{t| (mV)}', {rich:axRich}, Math.PI / 2));
[218, 829].forEach(y => T(1153, y, '{t|I (A/F)}', {rich:axRich}, Math.PI / 2));
[558, 1172].forEach(y => T(1153, y, '{t|[Na}{u|+}{t|] (mM)}', {rich:axRich}, Math.PI / 2));

// legends
const lgRich = {
  m:{fontFamily:'"Liberation Serif", serif', fontStyle:'italic', fontSize:26, lineHeight:32, verticalAlign:'middle', fill:'#000'},
  p:{fontFamily:'"DejaVu Serif", serif', fontStyle:'italic', fontSize:22, lineHeight:32, verticalAlign:'middle', fill:'#000'},
  s:{fontFamily:'"Liberation Serif", serif', fontStyle:'italic', fontSize:17, lineHeight:15, verticalAlign:'bottom', fill:'#000'},
  u:{fontFamily:'"Liberation Serif", serif', fontStyle:'italic', fontSize:17, lineHeight:15, verticalAlign:'top', fill:'#000'}
};
const legend1 = [
  ['{p|ϕ}{s|m,25}{m|,  }{p|ϕ}{s|m,26}', COL.black, 143],
  ['{m|I}{s|Na,r,25,j}', '#80f8f8', 172],
  ['{m|Ī}{s|Na,r,25}', COL.cyan, 203],
  ['{m|I}{s|Na,l,26,j}', '#ff80ff', 233],
  ['{m|Ī}{s|Na,l,26}', COL.mag, 263],
  ['{m|I}{s|gap,25}', COL.orange, 293]
];
legend1.forEach(it => {
  G.push({type:'line', silent:true, z:100, shape:{x1:1183, y1:it[2], x2:1215, y2:it[2]}, style:{stroke:it[1], lineWidth:4}});
  G.push({type:'text', x:1220, y:it[2], silent:true, z:100, style:{text:it[0], rich:lgRich, fill:'#000', align:'left', textAlign:'left', verticalAlign:'middle', textVerticalAlign:'middle'}});
});
const legend2 = [
  ['{p|ϕ}{s|c,25,j}', '#7f7fff', 489],
  ['{m|[Na}{u|+}{m|]}{s|c,25,j}', '#ff7f7f', 520]
];
legend2.forEach(it => {
  G.push({type:'line', silent:true, z:100, shape:{x1:1193, y1:it[2], x2:1231, y2:it[2]}, style:{stroke:it[1], lineWidth:4}});
  G.push({type:'text', x:1236, y:it[2], silent:true, z:100, style:{text:it[0], rich:lgRich, fill:'#000', align:'left', textAlign:'left', verticalAlign:'middle', textVerticalAlign:'middle'}});
});

const chart = echarts.init(document.getElementById('c'), null, {renderer:'canvas'});
chart.setOption({animation:false, backgroundColor:'#ffffff', grid:grids, xAxis:xAxes, yAxis:yAxes, series, graphic:G});
</script></body></html>
